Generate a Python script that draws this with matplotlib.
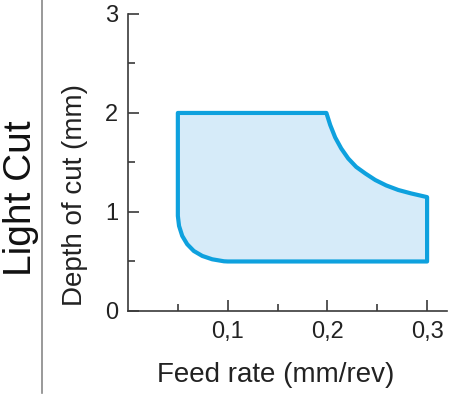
import matplotlib.pyplot as plt
from matplotlib.ticker import FuncFormatter

plt.rcParams['font.family'] = ['Liberation Sans', 'DejaVu Sans']

# Outline of the recommended cutting window (feed rate, depth of cut)
feed = [0.05, 0.199, 0.2028, 0.2078, 0.2139, 0.2209, 0.2289, 0.238, 0.248,
        0.259, 0.2711, 0.2841, 0.30, 0.30, 0.10, 0.0962, 0.0845, 0.0745,
        0.066, 0.0594, 0.0544, 0.0512, 0.05, 0.05]
depth = [2.0, 2.0, 1.879, 1.753, 1.641, 1.54, 1.455, 1.389, 1.323,
         1.268, 1.222, 1.187, 1.15, 0.5, 0.5, 0.502, 0.522, 0.556,
         0.606, 0.674, 0.758, 0.859, 0.96, 2.0]

x_major = [0.1, 0.2, 0.3]
x_minor = [0.05, 0.15, 0.25]
y_major = [0, 1, 2, 3]
y_minor = [0.5, 1.5, 2.5]

fig = plt.figure(figsize=(4.52, 3.95), dpi=100)
ax = fig.add_axes([0.2832, 0.2127, 0.7058, 0.752])

ax.fill(feed, depth, facecolor='#d6ebf9', edgecolor='#0ea1de', linewidth=3,
        joinstyle='round')

ax.set_xlim(0, 0.32)
ax.set_ylim(0, 3)
ax.set_xticks(x_major)
ax.set_xticks(x_minor, minor=True)
ax.set_yticks(y_major)
ax.set_yticks(y_minor, minor=True)
ax.xaxis.set_major_formatter(FuncFormatter(lambda v, p: f"{v:.1f}".replace('.', ',')))

for s in ['top', 'right']:
    ax.spines[s].set_visible(False)
for s in ['left', 'bottom']:
    ax.spines[s].set_color('#3a3a3a')
    ax.spines[s].set_linewidth(1.2)

ax.tick_params(which='both', direction='in', color='#3a3a3a', width=1.2,
               labelsize=17, labelcolor='#222222')
ax.tick_params(which='major', length=8, pad=7)
ax.tick_params(which='minor', length=5)

ax.set_xlabel("Feed rate (mm/rev)", fontsize=20, color='#222222', labelpad=14)
ax.set_ylabel("Depth of cut (mm)", fontsize=20, color='#222222', labelpad=12)
ax.xaxis.label.set_x(0.464)
ax.yaxis.label.set_y(0.39)

# side title and separator line
fig.text(0.047, 0.498, "Light Cut", rotation=90, fontsize=28, color='#111111',
         ha='center', va='center')
fig.add_artist(plt.Line2D([0.092, 0.092], [0.005, 1.0], color='#888888',
                          linewidth=1.2, transform=fig.transFigure))

fig.savefig("out.png", dpi=100)
